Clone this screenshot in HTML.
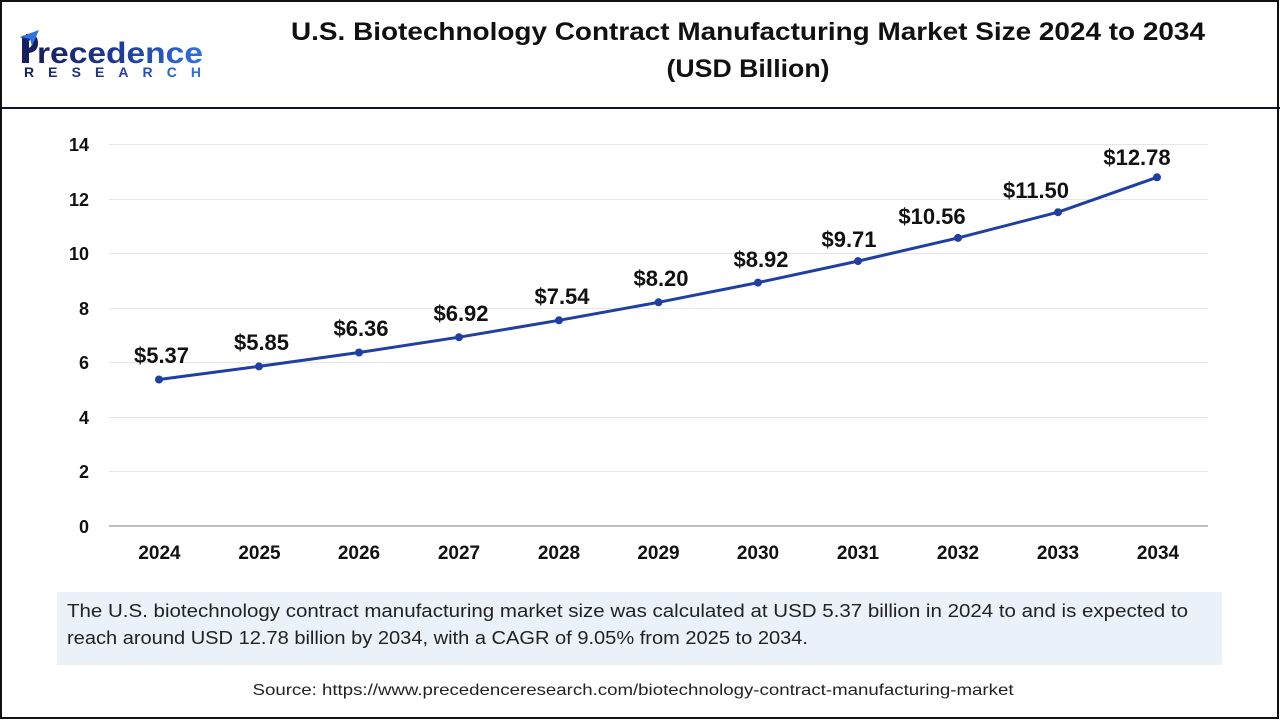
<!DOCTYPE html>
<html>
<head>
<meta charset="utf-8">
<style>
  html,body{margin:0;padding:0;background:#fff;}
  svg{display:block;}
  text{font-family:"Liberation Sans", Arial, sans-serif;}
</style>
</head>
<body>
<svg width="1280" height="720" viewBox="0 0 1280 720" xmlns="http://www.w3.org/2000/svg">
  <defs>
    <linearGradient id="lg" x1="0" y1="0" x2="1" y2="0">
      <stop offset="0" stop-color="#16205e"/>
      <stop offset="0.5" stop-color="#1f3a9a"/>
      <stop offset="1" stop-color="#2f72e2"/>
    </linearGradient>
  </defs>
  <rect x="0" y="0" width="1280" height="720" fill="#fff"/>

  <!-- Logo -->
  <g>
    <path d="M22 36 L29 34 L29 63 L22 63 Z" fill="#16205e"/>
    <path d="M26 34 Q38 33 38 43 Q38 53 27 53 L27 48 Q32 48 32 43 Q32 39 26 39 Z" fill="#16205e"/>
    <path d="M20 37 L39 30 L32 46 L30 39 Z" fill="#2f72e2"/>
    <path d="M20 37 L30 39 L29 42 Z" fill="#1b2a78"/>
    <text x="37" y="63" font-size="30" font-weight="bold" fill="url(#lg)" textLength="166" lengthAdjust="spacingAndGlyphs">recedence</text>
    <text x="24" y="77" font-size="14" font-weight="bold" fill="url(#lg)" textLength="177" lengthAdjust="spacing">RESEARCH</text>
  </g>

  <!-- Title -->
  <text x="748" y="40" font-size="25" font-weight="bold" fill="#111" text-anchor="middle" textLength="914" lengthAdjust="spacingAndGlyphs">U.S. Biotechnology Contract Manufacturing Market Size 2024 to 2034</text>
  <text x="748" y="77" font-size="25" font-weight="bold" fill="#111" text-anchor="middle" textLength="163" lengthAdjust="spacingAndGlyphs">(USD Billion)</text>

  <!-- Header divider -->
  <rect x="0" y="107" width="1280" height="2" fill="#0f1240"/>

  <!-- Gridlines -->
  <g stroke="#e6e6e6" stroke-width="1">
    <line x1="109" y1="144.5" x2="1208" y2="144.5"/>
    <line x1="109" y1="199.5" x2="1208" y2="199.5"/>
    <line x1="109" y1="253.5" x2="1208" y2="253.5"/>
    <line x1="109" y1="308.5" x2="1208" y2="308.5"/>
    <line x1="109" y1="362.5" x2="1208" y2="362.5"/>
    <line x1="109" y1="417.5" x2="1208" y2="417.5"/>
    <line x1="109" y1="471.5" x2="1208" y2="471.5"/>
  </g>
  <line x1="109" y1="526" x2="1208" y2="526" stroke="#bfbfbf" stroke-width="2"/>

  <!-- Y tick labels -->
  <g font-size="18" font-weight="bold" fill="#111" text-anchor="end">
    <text x="89" y="151">14</text>
    <text x="89" y="206">12</text>
    <text x="89" y="260">10</text>
    <text x="89" y="315">8</text>
    <text x="89" y="369">6</text>
    <text x="89" y="424">4</text>
    <text x="89" y="478">2</text>
    <text x="89" y="533">0</text>
  </g>

  <!-- X labels -->
  <g font-size="19" font-weight="bold" fill="#111" text-anchor="middle">
    <text x="159.5" y="559">2024</text>
    <text x="259.5" y="559">2025</text>
    <text x="359" y="559">2026</text>
    <text x="459" y="559">2027</text>
    <text x="559" y="559">2028</text>
    <text x="658.5" y="559">2029</text>
    <text x="758" y="559">2030</text>
    <text x="858" y="559">2031</text>
    <text x="958" y="559">2032</text>
    <text x="1058" y="559">2033</text>
    <text x="1158" y="559">2034</text>
  </g>

  <!-- Series -->
  <polyline fill="none" stroke="#1f3fa3" stroke-width="3" stroke-linejoin="round"
    points="159,379.5 259,366.4 359,352.5 459,337.2 559,320.3 658.5,302.3 758,282.6 858,261.1 958,237.9 1058,212.2 1157,177.3"/>
  <g fill="#1f3fa3">
    <circle cx="159" cy="379.5" r="4"/>
    <circle cx="259" cy="366.4" r="4"/>
    <circle cx="359" cy="352.5" r="4"/>
    <circle cx="459" cy="337.2" r="4"/>
    <circle cx="559" cy="320.3" r="4"/>
    <circle cx="658.5" cy="302.3" r="4"/>
    <circle cx="758" cy="282.6" r="4"/>
    <circle cx="858" cy="261.1" r="4"/>
    <circle cx="958" cy="237.9" r="4"/>
    <circle cx="1058" cy="212.2" r="4"/>
    <circle cx="1157" cy="177.3" r="4"/>
  </g>

  <!-- Data labels -->
  <g font-size="22" font-weight="bold" fill="#111" text-anchor="middle">
    <text x="161.5" y="363">$5.37</text>
    <text x="261.5" y="350">$5.85</text>
    <text x="361" y="336">$6.36</text>
    <text x="461" y="321">$6.92</text>
    <text x="562" y="304">$7.54</text>
    <text x="661" y="286">$8.20</text>
    <text x="761" y="267">$8.92</text>
    <text x="849" y="247">$9.71</text>
    <text x="932" y="224">$10.56</text>
    <text x="1036" y="198">$11.50</text>
    <text x="1137" y="165">$12.78</text>
  </g>

  <!-- Info box -->
  <rect x="57" y="592" width="1165" height="73" fill="#eaf1f9"/>
  <g font-size="18" fill="#222">
    <text x="67" y="617" textLength="1121" lengthAdjust="spacingAndGlyphs">The U.S. biotechnology contract manufacturing market size was calculated at USD 5.37 billion in 2024 to and is expected to</text>
    <text x="67" y="644" textLength="741" lengthAdjust="spacingAndGlyphs">reach around USD 12.78 billion by 2034, with a CAGR of 9.05% from 2025 to 2034.</text>
  </g>

  <!-- Source -->
  <text x="633" y="695" font-size="16" fill="#222" text-anchor="middle" textLength="761" lengthAdjust="spacingAndGlyphs">Source: https://www.precedenceresearch.com/biotechnology-contract-manufacturing-market</text>

  <!-- Outer border -->
  <rect x="1" y="1" width="1277" height="717" fill="none" stroke="#111" stroke-width="2"/>
</svg>
</body>
</html>
